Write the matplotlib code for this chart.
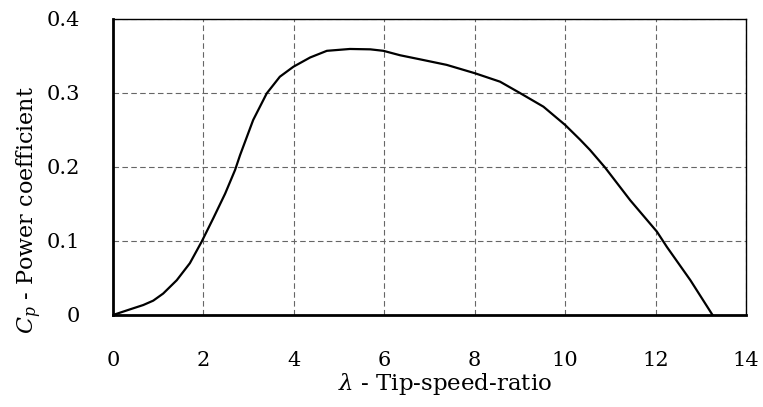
import numpy as np
import matplotlib.pyplot as plt

# Cp - lambda curve
tsr = [0, 0.38, 0.67, 0.89, 1.11, 1.41, 1.70, 1.96, 2.22, 2.48, 2.70, 2.81,
       3.10, 3.40, 3.69, 3.99, 4.36, 4.73, 5.24, 5.69, 5.98, 6.35, 6.79,
       7.38, 8.01, 8.56, 9.0, 9.52, 10.0, 10.33, 10.55, 10.88, 11.44,
       12.03, 12.25, 12.77, 13.26]
cp = [0, 0.0077, 0.0135, 0.0194, 0.029, 0.047, 0.070, 0.099, 0.131, 0.164, 0.196, 0.216,
      0.2635, 0.2995, 0.322, 0.3355, 0.348, 0.357, 0.3595, 0.359, 0.357, 0.351, 0.3455,
      0.338, 0.3266, 0.3153, 0.300, 0.2815, 0.2568, 0.237, 0.223, 0.1995, 0.155,
      0.1126, 0.092, 0.047, 0]

x_ticks = [0, 2, 4, 6, 8, 10, 12, 14]
y_ticks = [0, 0.1, 0.2, 0.3, 0.4]
y_tick_labels = ['0', '0.1', '0.2', '0.3', '0.4']

plt.rcParams['font.family'] = 'DejaVu Serif'
plt.rcParams['mathtext.fontset'] = 'dejavuserif'

fig = plt.figure(figsize=(7.63, 4.07), dpi=100)
ax = fig.add_axes([113 / 763, 1 - 315 / 407, 633 / 763, 296 / 407])

ax.plot(tsr, cp, color='black', lw=1.6, solid_joinstyle='round')

ax.set_xlim(0, 14)
ax.set_ylim(0, 0.4)
ax.set_xticks(x_ticks)
ax.set_yticks(y_ticks)
ax.set_yticklabels(y_tick_labels)
ax.tick_params(length=0, labelsize=15)
ax.tick_params(axis='x', pad=26)
ax.tick_params(axis='y', pad=24)

ax.grid(True, ls=(0, (5, 3)), color='#666666', lw=0.8)
for s in ['left', 'bottom']:
    ax.spines[s].set_linewidth(2.0)
for s in ['top', 'right']:
    ax.spines[s].set_linewidth(1.0)

fig.text(445 / 763, 1 - 384 / 407, r'$\lambda$ - Tip-speed-ratio', fontsize=16.5,
         ha='center', va='center')
fig.text(29 / 763, 1 - 210 / 407, r'$C_p$ - Power coefficient', fontsize=16,
         ha='center', va='center', rotation=90)

fig.savefig('out.png', dpi=100)
